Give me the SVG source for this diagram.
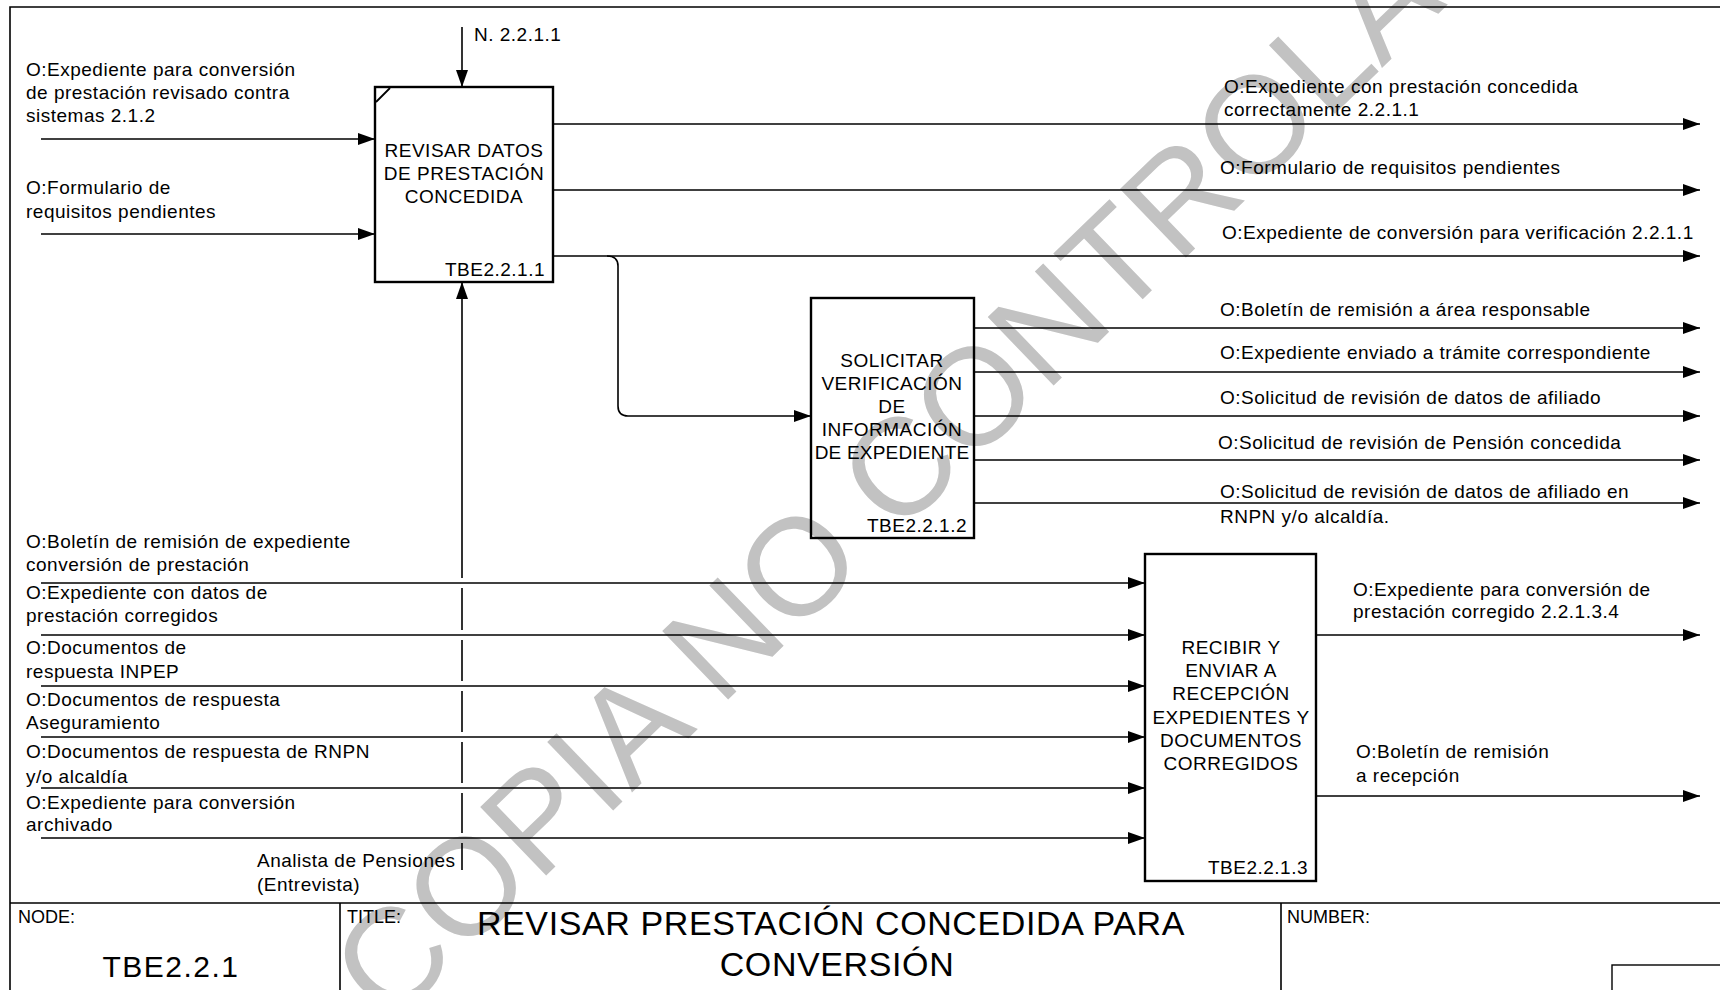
<svg xmlns="http://www.w3.org/2000/svg" width="1720" height="990" viewBox="0 0 1720 990">
<style>
.t{font-family:"Liberation Sans",Arial,sans-serif;font-size:19px;letter-spacing:0.5px;fill:#000}
.c{text-anchor:middle}
.r{text-anchor:end}
.box{fill:none;stroke:#000;stroke-width:2.4}
.ln{fill:none;stroke:#000;stroke-width:1.6}
.fr{fill:none;stroke:#000;stroke-width:1.6}
.small{font-family:"Liberation Sans",Arial,sans-serif;font-size:18px;fill:#000}
.big{font-family:"Liberation Sans",Arial,sans-serif;text-anchor:middle;fill:#000}
.wm{font-family:"Liberation Sans",Arial,sans-serif;font-size:138px;fill:#c2c2c2}
</style>
<defs>
<marker id="ah" markerUnits="userSpaceOnUse" markerWidth="17" markerHeight="12" refX="17" refY="6" orient="auto">
<path d="M0,0 L17,6 L0,12 z" fill="#000"/>
</marker>
</defs>
<rect width="1720" height="990" fill="#fff"/>
<g id="watermark">
<text class="wm" transform="translate(389,1027) rotate(-44)">COPIA NO CONTROLADA</text>
</g>
<g id="frame">
<path class="fr" d="M10,990 L10,7 L1720,7"/>
<path class="fr" d="M10,903 L1720,903 M340,903 L340,990 M1281,903 L1281,990"/>
<rect x="1612" y="965" width="120" height="40" fill="none" stroke="#000" stroke-width="1.4"/>
<text class="small" x="18" y="923">NODE:</text>
<text class="small" x="347" y="923">TITLE:</text>
<text class="small" x="1287" y="923">NUMBER:</text>
<text class="big" x="171" y="977" style="font-size:30px;letter-spacing:1.5px">TBE2.2.1</text>
<text class="big" x="831" y="935" style="font-size:34px;letter-spacing:0.6px">REVISAR PRESTACIÓN CONCEDIDA PARA</text>
<text class="big" x="837" y="976" style="font-size:34px;letter-spacing:0.6px">CONVERSIÓN</text>
</g>
<g id="connectors">
<path class="ln" d="M462,27 L462,87" marker-end="url(#ah)"/>
<path class="ln" d="M41,139 L375,139" marker-end="url(#ah)"/>
<path class="ln" d="M41,234 L375,234" marker-end="url(#ah)"/>
<path class="ln" d="M462,870 L462,843 M462,833 L462,793 M462,783 L462,742 M462,732 L462,691 M462,681 L462,640 M462,630 L462,588 M462,578 L462,282" marker-end="url(#ah)"/>
<path class="ln" d="M553,124 L1700,124" marker-end="url(#ah)"/>
<path class="ln" d="M553,190 L1700,190" marker-end="url(#ah)"/>
<path class="ln" d="M553,256 L1700,256" marker-end="url(#ah)"/>
<path class="ln" d="M607,256 Q618,256 618,266 L618,406 Q618,416 628,416 L811,416" marker-end="url(#ah)"/>
<path class="ln" d="M974,328 L1700,328" marker-end="url(#ah)"/>
<path class="ln" d="M974,372 L1700,372" marker-end="url(#ah)"/>
<path class="ln" d="M974,416 L1700,416" marker-end="url(#ah)"/>
<path class="ln" d="M974,460 L1700,460" marker-end="url(#ah)"/>
<path class="ln" d="M974,503 L1700,503" marker-end="url(#ah)"/>
<path class="ln" d="M41,583 L1145,583" marker-end="url(#ah)"/>
<path class="ln" d="M41,635 L1145,635" marker-end="url(#ah)"/>
<path class="ln" d="M41,686 L1145,686" marker-end="url(#ah)"/>
<path class="ln" d="M41,737 L1145,737" marker-end="url(#ah)"/>
<path class="ln" d="M41,788 L1145,788" marker-end="url(#ah)"/>
<path class="ln" d="M41,838 L1145,838" marker-end="url(#ah)"/>
<path class="ln" d="M1316,635 L1700,635" marker-end="url(#ah)"/>
<path class="ln" d="M1316,796 L1700,796" marker-end="url(#ah)"/>
</g>
<g id="labels">
<text class="t" x="474" y="41">N. 2.2.1.1</text>
<text class="t" x="26" y="76">O:Expediente para conversión</text>
<text class="t" x="26" y="99">de prestación revisado contra</text>
<text class="t" x="26" y="122">sistemas 2.1.2</text>
<text class="t" x="26" y="194">O:Formulario de</text>
<text class="t" x="26" y="218">requisitos pendientes</text>
<text class="t" x="1224" y="93">O:Expediente con prestación concedida</text>
<text class="t" x="1224" y="116">correctamente 2.2.1.1</text>
<text class="t" x="1220" y="174">O:Formulario de requisitos pendientes</text>
<text class="t" x="1222" y="239">O:Expediente de conversión para verificación 2.2.1.1</text>
<text class="t" x="1220" y="316">O:Boletín de remisión a área responsable</text>
<text class="t" x="1220" y="359">O:Expediente enviado a trámite correspondiente</text>
<text class="t" x="1220" y="404">O:Solicitud de revisión de datos de afiliado</text>
<text class="t" x="1218" y="449">O:Solicitud de revisión de Pensión concedida</text>
<text class="t" x="1220" y="498">O:Solicitud de revisión de datos de afiliado en</text>
<text class="t" x="1220" y="523">RNPN y/o alcaldía.</text>
<text class="t" x="26" y="548">O:Boletín de remisión de expediente</text>
<text class="t" x="26" y="571">conversión de prestación</text>
<text class="t" x="26" y="599">O:Expediente con datos de</text>
<text class="t" x="26" y="622">prestación corregidos</text>
<text class="t" x="26" y="654">O:Documentos de</text>
<text class="t" x="26" y="678">respuesta INPEP</text>
<text class="t" x="26" y="706">O:Documentos de respuesta</text>
<text class="t" x="26" y="729">Aseguramiento</text>
<text class="t" x="26" y="758">O:Documentos de respuesta de RNPN</text>
<text class="t" x="26" y="783">y/o alcaldía</text>
<text class="t" x="26" y="809">O:Expediente para conversión</text>
<text class="t" x="26" y="831">archivado</text>
<text class="t" x="257" y="867">Analista de Pensiones</text>
<text class="t" x="257" y="891">(Entrevista)</text>
<text class="t" x="1353" y="596">O:Expediente para conversión de</text>
<text class="t" x="1353" y="618">prestación corregido 2.2.1.3.4</text>
<text class="t" x="1356" y="758">O:Boletín de remisión</text>
<text class="t" x="1356" y="782">a recepción</text>
</g>
<g id="node-TBE2.2.1.1">
<rect class="box" x="375" y="87" width="178" height="195"/>
<path d="M376,102 L390,88" stroke="#000" stroke-width="1.8"/>
<text class="t c" x="464" y="157">REVISAR DATOS</text>
<text class="t c" x="464" y="180">DE PRESTACIÓN</text>
<text class="t c" x="464" y="203">CONCEDIDA</text>
<text class="t r" x="545" y="276">TBE2.2.1.1</text>
</g>
<g id="node-TBE2.2.1.2">
<rect class="box" x="811" y="298" width="163" height="240"/>
<text class="t c" x="892" y="367">SOLICITAR</text>
<text class="t c" x="892" y="390">VERIFICACIÓN</text>
<text class="t c" x="892" y="413">DE</text>
<text class="t c" x="892" y="436">INFORMACIÓN</text>
<text class="t c" x="892" y="459" style="letter-spacing:0.2px">DE EXPEDIENTE</text>
<text class="t r" x="967" y="532">TBE2.2.1.2</text>
</g>
<g id="node-TBE2.2.1.3">
<rect class="box" x="1145" y="554" width="171" height="327"/>
<text class="t c" x="1231" y="654">RECIBIR Y</text>
<text class="t c" x="1231" y="677">ENVIAR A</text>
<text class="t c" x="1231" y="700">RECEPCIÓN</text>
<text class="t c" x="1231" y="724">EXPEDIENTES Y</text>
<text class="t c" x="1231" y="747">DOCUMENTOS</text>
<text class="t c" x="1231" y="770">CORREGIDOS</text>
<text class="t r" x="1308" y="874">TBE2.2.1.3</text>
</g>
</svg>
